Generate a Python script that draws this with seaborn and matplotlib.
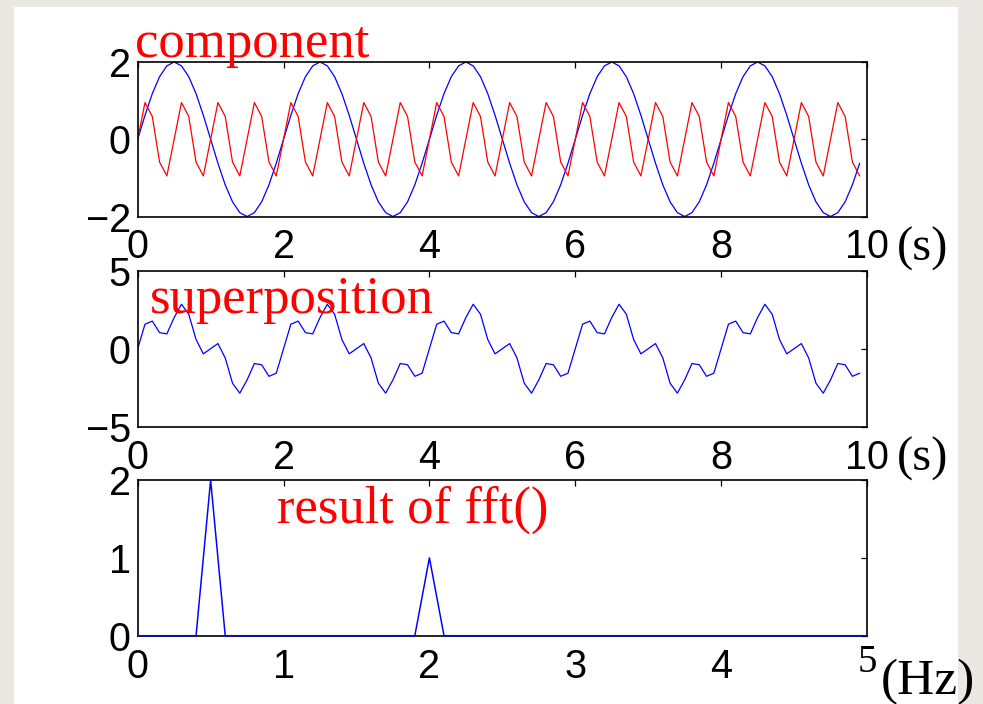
import numpy as np
import pandas as pd
import matplotlib
matplotlib.use("Agg")
import matplotlib.pyplot as plt
from matplotlib.patches import Rectangle
import seaborn as sns

# ---------------- data ----------------
sample_step = 0.1  # seconds between samples

component_blue = [
    0.00, 0.62, 1.18, 1.62, 1.90, 2.00, 1.90, 1.62, 1.18, 0.62,
    0.00, -0.62, -1.18, -1.62, -1.90, -2.00, -1.90, -1.62, -1.18, -0.62,
    0.00, 0.62, 1.18, 1.62, 1.90, 2.00, 1.90, 1.62, 1.18, 0.62,
    0.00, -0.62, -1.18, -1.62, -1.90, -2.00, -1.90, -1.62, -1.18, -0.62,
    0.00, 0.62, 1.18, 1.62, 1.90, 2.00, 1.90, 1.62, 1.18, 0.62,
    0.00, -0.62, -1.18, -1.62, -1.90, -2.00, -1.90, -1.62, -1.18, -0.62,
    0.00, 0.62, 1.18, 1.62, 1.90, 2.00, 1.90, 1.62, 1.18, 0.62,
    0.00, -0.62, -1.18, -1.62, -1.90, -2.00, -1.90, -1.62, -1.18, -0.62,
    0.00, 0.62, 1.18, 1.62, 1.90, 2.00, 1.90, 1.62, 1.18, 0.62,
    0.00, -0.62, -1.18, -1.62, -1.90, -2.00, -1.90, -1.62, -1.18, -0.62,
]

component_red = [
    0.00, 0.95, 0.59, -0.59, -0.95, 0.00, 0.95, 0.59, -0.59, -0.95,
    0.00, 0.95, 0.59, -0.59, -0.95, 0.00, 0.95, 0.59, -0.59, -0.95,
    0.00, 0.95, 0.59, -0.59, -0.95, 0.00, 0.95, 0.59, -0.59, -0.95,
    0.00, 0.95, 0.59, -0.59, -0.95, 0.00, 0.95, 0.59, -0.59, -0.95,
    0.00, 0.95, 0.59, -0.59, -0.95, 0.00, 0.95, 0.59, -0.59, -0.95,
    0.00, 0.95, 0.59, -0.59, -0.95, 0.00, 0.95, 0.59, -0.59, -0.95,
    0.00, 0.95, 0.59, -0.59, -0.95, 0.00, 0.95, 0.59, -0.59, -0.95,
    0.00, 0.95, 0.59, -0.59, -0.95, 0.00, 0.95, 0.59, -0.59, -0.95,
    0.00, 0.95, 0.59, -0.59, -0.95, 0.00, 0.95, 0.59, -0.59, -0.95,
    0.00, 0.95, 0.59, -0.59, -0.95, 0.00, 0.95, 0.59, -0.59, -0.95,
]

superposition = [
    0.00, 1.57, 1.77, 1.03, 0.95, 2.00, 2.85, 2.21, 0.59, -0.33,
    0.00, 0.33, -0.59, -2.21, -2.85, -2.00, -0.95, -1.03, -1.77, -1.57,
    0.00, 1.57, 1.77, 1.03, 0.95, 2.00, 2.85, 2.21, 0.59, -0.33,
    0.00, 0.33, -0.59, -2.21, -2.85, -2.00, -0.95, -1.03, -1.77, -1.57,
    0.00, 1.57, 1.77, 1.03, 0.95, 2.00, 2.85, 2.21, 0.59, -0.33,
    0.00, 0.33, -0.59, -2.21, -2.85, -2.00, -0.95, -1.03, -1.77, -1.57,
    0.00, 1.57, 1.77, 1.03, 0.95, 2.00, 2.85, 2.21, 0.59, -0.33,
    0.00, 0.33, -0.59, -2.21, -2.85, -2.00, -0.95, -1.03, -1.77, -1.57,
    0.00, 1.57, 1.77, 1.03, 0.95, 2.00, 2.85, 2.21, 0.59, -0.33,
    0.00, 0.33, -0.59, -2.21, -2.85, -2.00, -0.95, -1.03, -1.77, -1.57,
]

freq_step = 0.1  # Hz between spectrum bins
fft_magnitude = [
    0, 0, 0, 0, 0, 2, 0, 0, 0, 0,
    0, 0, 0, 0, 0, 0, 0, 0, 0, 0,
    1, 0, 0, 0, 0, 0, 0, 0, 0, 0,
    0, 0, 0, 0, 0, 0, 0, 0, 0, 0,
    0, 0, 0, 0, 0, 0, 0, 0, 0, 0,
    0,
]

time_ticks = [0, 2, 4, 6, 8, 10]
freq_ticks = [0, 1, 2, 3, 4, 5]
yticks_component = [-2, 0, 2]
yticks_super = [-5, 0, 5]
yticks_fft = [0, 1, 2]

t = np.round(np.arange(len(component_blue)) * sample_step, 2)
f = np.round(np.arange(len(fft_magnitude)) * freq_step, 2)

df_time = pd.DataFrame({"t": t, "blue": component_blue, "red": component_red,
                        "sum": superposition})
df_freq = pd.DataFrame({"f": f, "mag": fft_magnitude})

# ---------------- style ----------------
sns.set_theme(style="white")
plt.rcParams["font.family"] = ["Liberation Sans", "DejaVu Sans"]

W, H = 983, 704
fig = plt.figure(figsize=(W / 100, H / 100), dpi=100, facecolor="#ebe7e3")
fig.patches.append(Rectangle((14 / W, 0), (958 - 14) / W, 1 - 7 / H,
                             transform=fig.transFigure, facecolor="white",
                             edgecolor="none", zorder=-10))

left = 137.7 / W
width = (867 - 137.7) / W
def axes_at(top_px, bottom_px):
    return fig.add_axes([left, 1 - bottom_px / H, width, (bottom_px - top_px) / H])

ax1 = axes_at(62, 216.5)
ax2 = axes_at(270.7, 426.7)
ax3 = axes_at(480, 635.7)

BLUE = "#0000ff"
RED = "#ff0000"
LW = 0.9

sns.lineplot(data=df_time, x="t", y="blue", ax=ax1, color=BLUE, linewidth=LW,
             errorbar=None, sort=False)
sns.lineplot(data=df_time, x="t", y="red", ax=ax1, color=RED, linewidth=LW,
             errorbar=None, sort=False)
sns.lineplot(data=df_time, x="t", y="sum", ax=ax2, color=BLUE, linewidth=LW,
             errorbar=None, sort=False)
sns.lineplot(data=df_freq, x="f", y="mag", ax=ax3, color=BLUE, linewidth=LW * 1.2,
             errorbar=None, sort=False)
for ln in ax3.lines:
    ln.set_clip_on(False)
    ln.set_zorder(5)

settings = [
    (ax1, (0, 10), time_ticks, (-2, 2), yticks_component),
    (ax2, (0, 10), time_ticks, (-5, 5), yticks_super),
    (ax3, (0, 5), freq_ticks, (0, 2), yticks_fft),
]
for ax, xl, xt, yl, yt in settings:
    ax.set_facecolor("white")
    ax.set_xlim(*xl)
    ax.set_ylim(*yl)
    ax.set_xticks(xt)
    ax.set_yticks(yt)
    xlabels = [str(v) for v in xt]
    if ax is ax3:
        xlabels[-1] = ""  # drawn separately in serif below
    ax.set_xticklabels(xlabels)
    ax.set_yticklabels([str(v).replace("-", "\u2212") for v in yt])
    ax.set_xlabel("")
    ax.set_ylabel("")
    ax.tick_params(direction="in", length=4.5, width=0.9, top=True, right=True,
                   labelsize=28.5, colors="black")
    ax.tick_params(axis="x", pad=8.5)
    ax.tick_params(axis="y", pad=5)
    for sp in ax.spines.values():
        sp.set_visible(True)
        sp.set_color("black")
        sp.set_linewidth(1.2)

# last frequency tick label ("5"), serif, slightly raised
ax3.annotate(str(freq_ticks[-1]), xy=(freq_ticks[-1], 0),
             xycoords=("data", "axes fraction"), xytext=(0, -26),
             textcoords="offset points", ha="center", va="baseline",
             fontsize=28, family="Liberation Serif", color="black",
             annotation_clip=False)

def ftext(x_px, y_px, s, size, color="red"):
    fig.text(x_px / W, 1 - y_px / H, s, fontsize=size, color=color,
             family="Liberation Serif", ha="left", va="baseline", zorder=10)

ftext(135, 57, "component", 38)
ftext(150, 313, "superposition", 38)
ftext(277, 523, "result of fft()", 38)
ftext(897, 261, "(s)", 35, color="black")
ftext(897, 471, "(s)", 35, color="black")
ftext(881, 694, "(Hz)", 37, color="black")

fig.savefig("out.png", dpi=100, facecolor=fig.get_facecolor())
